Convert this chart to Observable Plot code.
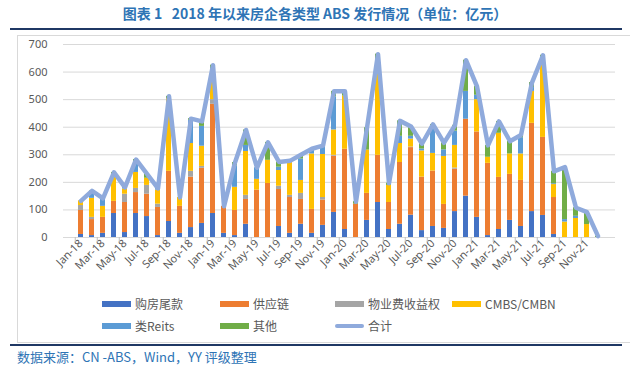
<!DOCTYPE html>
<html><head><meta charset="utf-8">
<script src="https://cdn.jsdelivr.net/npm/d3@7"></script>
<script src="https://cdn.jsdelivr.net/npm/@observablehq/plot@0.6"></script>
<style>
body{margin:0;background:#fff;}
#wrap{position:relative;width:630px;height:371px;overflow:hidden;font-family:"Noto Sans CJK SC","Noto Sans",sans-serif;}
#title{position:absolute;left:0;width:630px;top:3px;text-align:center;font-weight:bold;font-size:14px;line-height:20px;color:#2E74B5;white-space:pre;}
.navy{position:absolute;left:10px;width:612px;height:2px;background:#1F3864;}
#box{position:absolute;left:17px;top:35px;width:612px;height:306px;border:1px solid #D9D9D9;border-right:none;}
#chart{position:absolute;left:0;top:30px;}
.lg{position:absolute;font-size:12px;line-height:16px;color:#595959;white-space:nowrap;}
.sw{position:absolute;width:29px;height:6px;}
#source{position:absolute;left:17px;top:348px;font-size:13px;line-height:18px;color:#2E74B5;white-space:pre;}
</style></head>
<body>
<div id="wrap">
  <div id="title">图表 1   2018 年以来房企各类型 ABS 发行情况（单位：亿元）</div>
  <div class="navy" style="top:28px"></div>
  <div id="box"></div>
  <div id="chart"></div>
  <div id="legend"></div>
  <div class="navy" style="top:344px"></div>
  <div id="source">数据来源：CN -ABS，Wind，YY 评级整理</div>
</div>
<script>
const months = ["Jan-18","Feb-18","Mar-18","Apr-18","May-18","Jun-18","Jul-18","Aug-18","Sep-18","Oct-18","Nov-18","Dec-18",
  "Jan-19","Feb-19","Mar-19","Apr-19","May-19","Jun-19","Jul-19","Aug-19","Sep-19","Oct-19","Nov-19","Dec-19",
  "Jan-20","Feb-20","Mar-20","Apr-20","May-20","Jun-20","Jul-20","Aug-20","Sep-20","Oct-20","Nov-20","Dec-20",
  "Jan-21","Feb-21","Mar-21","Apr-21","May-21","Jun-21","Jul-21","Aug-21","Sep-21","Oct-21","Nov-21","Dec-21"];
const labelMonths = months.filter((d, i) => i % 2 === 0);
const yTicks = [0, 100, 200, 300, 400, 500, 600, 700];

const buyTail  = [11,7,15,87,18,87,76,7,58,15,36,51, 87,15,7,48,0,0,40,15,48,15,44,91, 29,0,62,127,29,48,81,25,40,33,94,150, 73,7,29,62,40,94,80,11,0,0,0,0];
const supply   = [87,58,58,44,109,76,81,102,182,98,183,200, 396,98,91,90,172,196,134,130,90,87,92,204, 291,121,98,171,98,224,245,194,201,87,154,279, 310,262,189,167,167,320,283,134,0,0,0,0];
const property = [18,8,0,0,30,15,32,12,0,0,21,7, 17,0,0,15,0,0,12,8,22,0,9,3, 0,0,0,0,0,0,2,0,0,0,4,0, 0,0,0,0,0,0,0,0,0,0,0,0];
const cmbs     = [17,69,40,87,19,58,26,51,264,32,101,73, 100,0,84,159,39,84,57,125,47,201,156,92, 193,0,157,321,62,69,29,95,64,174,82,0, 117,22,160,74,96,116,286,47,56,69,47,0];
const reits    = [0,19,26,8,6,36,0,6,0,0,84,72, 0,0,78,22,42,0,12,0,78,19,27,120, 0,0,0,0,0,26,10,7,96,24,52,101, 16,0,0,0,59,14,0,3,9,8,0,0];
const other    = [0,8,3,10,0,11,16,0,8,0,6,18, 25,0,12,56,0,65,19,0,15,0,5,20, 17,9,81,46,8,56,36,19,9,25,21,113, 32,43,43,46,10,18,12,45,190,31,45,5];
const total    = [133,169,142,236,182,283,231,178,512,145,431,421, 625,113,272,390,253,345,274,278,300,322,333,530, 530,130,398,665,197,423,403,340,410,343,407,643, 548,334,421,349,372,562,661,240,255,108,92,5];

const seriesNames = ["购房尾款","供应链","物业费收益权","CMBS/CMBN","类Reits","其他"];
const seriesValues = [buyTail, supply, property, cmbs, reits, other];
const colors = ["#4472C4","#ED7D31","#A5A5A5","#FFC000","#5B9BD5","#70AD47"];
const lineName = "合计";
const lineColor = "#8FAADC";

const rows = [];
months.forEach((m, i) => seriesValues.forEach((arr, k) => rows.push({month: m, series: seriesNames[k], value: arr[i]})));
const totalRows = months.map((m, i) => ({month: m, value: total[i]}));

const chart = Plot.plot({
  width: 630, height: 250,
  marginTop: 14, marginBottom: 43, marginLeft: 63, marginRight: 15,
  style: {fontFamily: "'Noto Sans', sans-serif", fontSize: "11px", color: "#595959", background: "transparent"},
  x: {domain: months, paddingInner: 0.54, paddingOuter: 0.27, label: null},
  y: {domain: [0, 700], label: null},
  color: {domain: seriesNames, range: colors},
  marks: [
    Plot.gridY({ticks: yTicks, stroke: "#D9D9D9", strokeOpacity: 1}),
    Plot.barY(rows, {x: "month", y: "value", fill: "series", order: seriesNames}),
    Plot.line(totalRows, {x: "month", y: "value", stroke: lineColor, strokeWidth: 4.5, strokeLinejoin: "round"}),
    Plot.axisY({ticks: yTicks, tickSize: 0, tickPadding: 16, fontSize: 11, label: null}),
    Plot.axisX({ticks: labelMonths, tickSize: 0, tickRotate: -45, tickPadding: 4, fontSize: 11, label: null}),
    Plot.axisX({ticks: labelMonths, tickSize: 5, tickFormat: () => "", dx: -5.75, stroke: "#BFBFBF", label: null})
  ]
});
document.getElementById("chart").appendChild(chart);

// legend
const legend = document.getElementById("legend");
const legendItems = [
  {name: seriesNames[0], color: colors[0], x: 102, y: 304},
  {name: seriesNames[1], color: colors[1], x: 220, y: 304},
  {name: seriesNames[2], color: colors[2], x: 335, y: 304},
  {name: seriesNames[3], color: colors[3], x: 452, y: 304},
  {name: seriesNames[4], color: colors[4], x: 102, y: 326},
  {name: seriesNames[5], color: colors[5], x: 220, y: 326},
  {name: lineName, color: lineColor, x: 335, y: 326, line: true}
];
legendItems.forEach(it => {
  const sw = document.createElement("div");
  sw.className = "sw";
  sw.style.left = it.x + "px";
  sw.style.top = (it.y - (it.line ? 2 : 3)) + "px";
  sw.style.background = it.color;
  if (it.line) { sw.style.height = "4px"; sw.style.borderRadius = "2px"; }
  legend.appendChild(sw);
  const t = document.createElement("div");
  t.className = "lg";
  t.style.left = (it.x + 33) + "px";
  t.style.top = (it.y - 8) + "px";
  t.textContent = it.name;
  legend.appendChild(t);
});
</script>
</body></html>
